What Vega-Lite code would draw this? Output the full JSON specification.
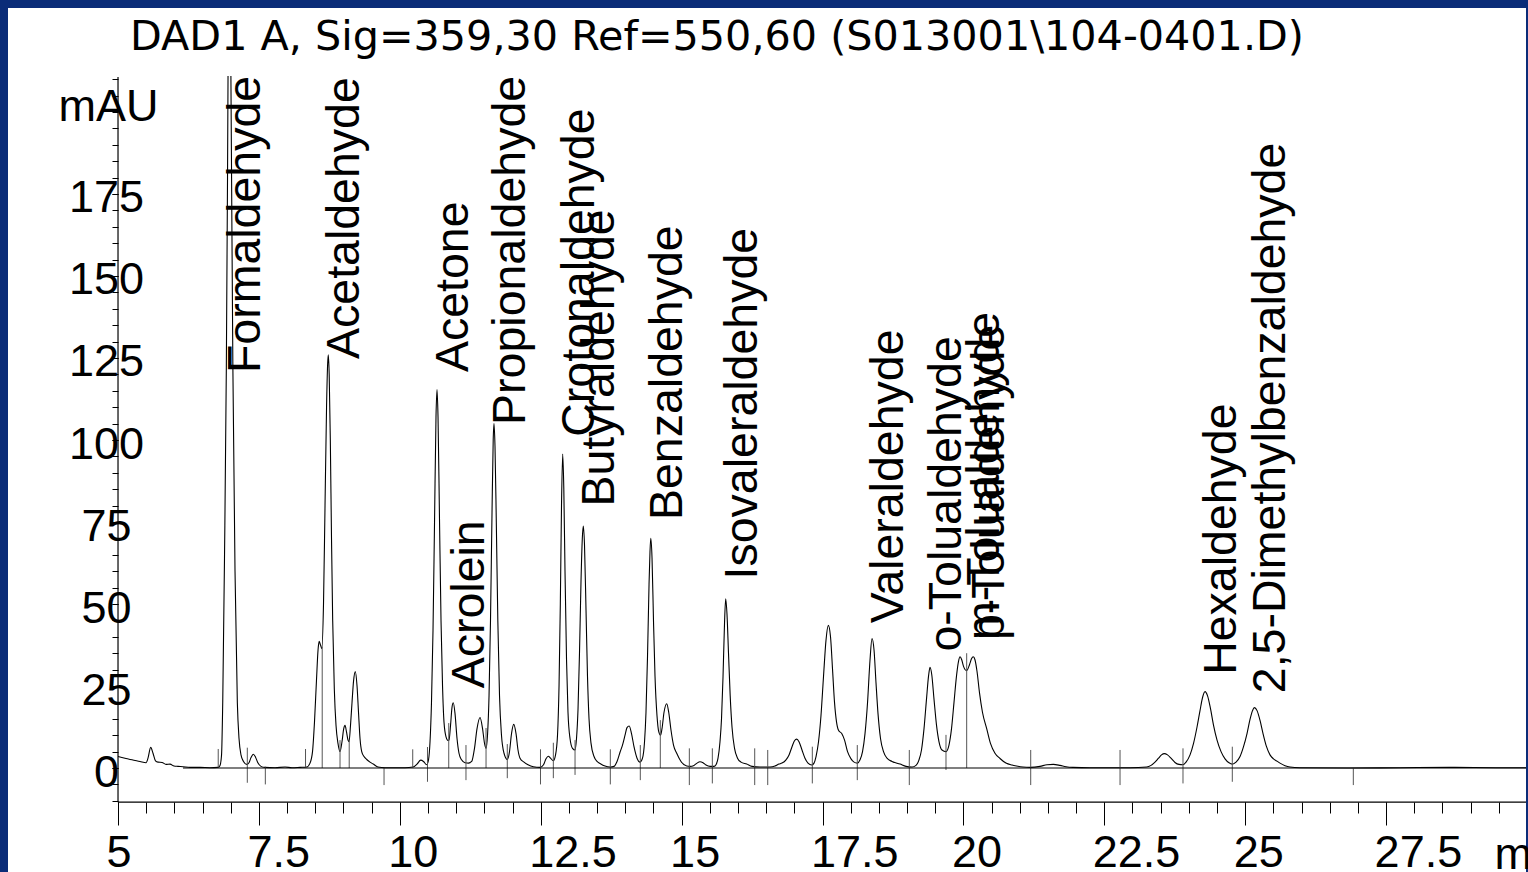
{
  "$schema": "https://vega.github.io/schema/vega-lite/v6.json",
  "width": 1518,
  "height": 864,
  "autosize": {"type": "none"},
  "padding": {"left": 8, "top": 8, "right": 2, "bottom": 0},
  "background": "#0a2c78",
  "config": {"view": {"fill": "white", "stroke": null}, "font": "Liberation Sans"},
  "resolve": {"axis": {"x": "independent", "y": "independent"}},
  "datasets": {
    "trace": [
      {"t": 5.000, "mAU": 3.5, "seg": "a"}, {"t": 5.124, "mAU": 3.0, "seg": "a"}, {"t": 5.248, "mAU": 2.5, "seg": "a"},
      {"t": 5.390, "mAU": 2.0, "seg": "a"}, {"t": 5.497, "mAU": 1.6, "seg": "a"}, {"t": 5.532, "mAU": 3.0, "seg": "a"},
      {"t": 5.580, "mAU": 6.3, "seg": "a"}, {"t": 5.621, "mAU": 4.5, "seg": "a"}, {"t": 5.665, "mAU": 2.2, "seg": "a"},
      {"t": 5.710, "mAU": 1.8, "seg": "a"}, {"t": 5.781, "mAU": 1.7, "seg": "a"}, {"t": 5.852, "mAU": 1.1, "seg": "a"},
      {"t": 5.923, "mAU": 1.2, "seg": "a"}, {"t": 5.994, "mAU": 0.6, "seg": "a"}, {"t": 6.065, "mAU": 0.5, "seg": "a"},
      {"t": 6.153, "mAU": 0.4, "seg": "a"}, {"t": 6.278, "mAU": 0.2, "seg": "a"}, {"t": 6.455, "mAU": 0.2, "seg": "a"},
      {"t": 6.632, "mAU": 0.1, "seg": "a"}, {"t": 6.774, "mAU": 0.2, "seg": "a"}, {"t": 6.810, "mAU": 0.8, "seg": "a"},
      {"t": 6.837, "mAU": 4, "seg": "a"}, {"t": 6.858, "mAU": 20, "seg": "a"}, {"t": 6.890, "mAU": 65, "seg": "a"},
      {"t": 6.922, "mAU": 122, "seg": "a"}, {"t": 6.943, "mAU": 180, "seg": "a"}, {"t": 6.952, "mAU": 211, "seg": "a"},
      {"t": 7.003, "mAU": 211, "seg": "b"}, {"t": 7.015, "mAU": 180, "seg": "b"}, {"t": 7.038, "mAU": 122, "seg": "b"},
      {"t": 7.076, "mAU": 60, "seg": "b"}, {"t": 7.117, "mAU": 20, "seg": "b"}, {"t": 7.147, "mAU": 9, "seg": "b"},
      {"t": 7.182, "mAU": 4, "seg": "b"}, {"t": 7.227, "mAU": 2, "seg": "b"}, {"t": 7.283, "mAU": 1.1, "seg": "b"},
      {"t": 7.324, "mAU": 1.6, "seg": "b"}, {"t": 7.360, "mAU": 3.2, "seg": "b"}, {"t": 7.401, "mAU": 4.2, "seg": "b"},
      {"t": 7.440, "mAU": 3.3, "seg": "b"}, {"t": 7.484, "mAU": 1.5, "seg": "b"}, {"t": 7.537, "mAU": 0.5, "seg": "b"},
      {"t": 7.608, "mAU": 0.2, "seg": "b"}, {"t": 7.786, "mAU": 0.1, "seg": "b"}, {"t": 7.963, "mAU": 0.3, "seg": "b"},
      {"t": 8.087, "mAU": 0.1, "seg": "b"}, {"t": 8.229, "mAU": 0.2, "seg": "b"}, {"t": 8.348, "mAU": 0.3, "seg": "b"},
      {"t": 8.407, "mAU": 1.5, "seg": "b"}, {"t": 8.451, "mAU": 5, "seg": "b"}, {"t": 8.486, "mAU": 14, "seg": "b"},
      {"t": 8.522, "mAU": 27, "seg": "b"}, {"t": 8.549, "mAU": 36, "seg": "b"}, {"t": 8.570, "mAU": 38.6, "seg": "b"},
      {"t": 8.593, "mAU": 37.5, "seg": "b"}, {"t": 8.616, "mAU": 36.4, "seg": "b"}, {"t": 8.646, "mAU": 50, "seg": "b"},
      {"t": 8.673, "mAU": 80, "seg": "b"}, {"t": 8.700, "mAU": 110, "seg": "b"}, {"t": 8.719, "mAU": 123, "seg": "b"},
      {"t": 8.731, "mAU": 126, "seg": "b"}, {"t": 8.747, "mAU": 120, "seg": "b"}, {"t": 8.767, "mAU": 100, "seg": "b"},
      {"t": 8.788, "mAU": 70, "seg": "b"}, {"t": 8.809, "mAU": 45, "seg": "b"}, {"t": 8.838, "mAU": 24, "seg": "b"},
      {"t": 8.868, "mAU": 13, "seg": "b"}, {"t": 8.903, "mAU": 7.5, "seg": "b"}, {"t": 8.939, "mAU": 5, "seg": "b"},
      {"t": 8.974, "mAU": 8, "seg": "b"}, {"t": 9.005, "mAU": 12, "seg": "b"}, {"t": 9.028, "mAU": 13, "seg": "b"},
      {"t": 9.054, "mAU": 11, "seg": "b"}, {"t": 9.081, "mAU": 8.5, "seg": "b"}, {"t": 9.099, "mAU": 8, "seg": "b"},
      {"t": 9.125, "mAU": 13, "seg": "b"}, {"t": 9.152, "mAU": 20, "seg": "b"}, {"t": 9.179, "mAU": 26.5, "seg": "b"},
      {"t": 9.210, "mAU": 29.4, "seg": "b"}, {"t": 9.241, "mAU": 25, "seg": "b"}, {"t": 9.267, "mAU": 17, "seg": "b"},
      {"t": 9.294, "mAU": 9, "seg": "b"}, {"t": 9.324, "mAU": 5, "seg": "b"}, {"t": 9.365, "mAU": 3.5, "seg": "b"},
      {"t": 9.413, "mAU": 2.6, "seg": "b"}, {"t": 9.471, "mAU": 1.8, "seg": "b"}, {"t": 9.530, "mAU": 1.2, "seg": "b"},
      {"t": 9.613, "mAU": 0.3, "seg": "b"}, {"t": 9.737, "mAU": 0.1, "seg": "b"}, {"t": 9.915, "mAU": 0.1, "seg": "b"},
      {"t": 10.092, "mAU": 0.1, "seg": "b"}, {"t": 10.234, "mAU": 0.3, "seg": "b"}, {"t": 10.305, "mAU": 1.2, "seg": "b"},
      {"t": 10.371, "mAU": 2.4, "seg": "b"}, {"t": 10.420, "mAU": 2.0, "seg": "b"}, {"t": 10.477, "mAU": 1.0, "seg": "b"},
      {"t": 10.509, "mAU": 2.5, "seg": "b"}, {"t": 10.536, "mAU": 8, "seg": "b"}, {"t": 10.562, "mAU": 20, "seg": "b"},
      {"t": 10.589, "mAU": 42, "seg": "b"}, {"t": 10.616, "mAU": 75, "seg": "b"}, {"t": 10.642, "mAU": 107, "seg": "b"},
      {"t": 10.660, "mAU": 115.4, "seg": "b"}, {"t": 10.678, "mAU": 107, "seg": "b"}, {"t": 10.704, "mAU": 76, "seg": "b"},
      {"t": 10.731, "mAU": 45, "seg": "b"}, {"t": 10.758, "mAU": 25, "seg": "b"}, {"t": 10.784, "mAU": 14, "seg": "b"},
      {"t": 10.820, "mAU": 9.5, "seg": "b"}, {"t": 10.855, "mAU": 8.4, "seg": "b"}, {"t": 10.873, "mAU": 8.5, "seg": "b"},
      {"t": 10.900, "mAU": 13, "seg": "b"}, {"t": 10.926, "mAU": 18.5, "seg": "b"}, {"t": 10.949, "mAU": 19.9, "seg": "b"},
      {"t": 10.980, "mAU": 16.5, "seg": "b"}, {"t": 11.015, "mAU": 9, "seg": "b"}, {"t": 11.050, "mAU": 4.5, "seg": "b"},
      {"t": 11.095, "mAU": 2.5, "seg": "b"}, {"t": 11.157, "mAU": 1.6, "seg": "b"}, {"t": 11.219, "mAU": 1.5, "seg": "b"},
      {"t": 11.276, "mAU": 2.0, "seg": "b"}, {"t": 11.325, "mAU": 6, "seg": "b"}, {"t": 11.370, "mAU": 12, "seg": "b"},
      {"t": 11.423, "mAU": 15.4, "seg": "b"}, {"t": 11.468, "mAU": 12, "seg": "b"}, {"t": 11.503, "mAU": 7.5, "seg": "b"},
      {"t": 11.530, "mAU": 6, "seg": "b"}, {"t": 11.556, "mAU": 10, "seg": "b"}, {"t": 11.583, "mAU": 22, "seg": "b"},
      {"t": 11.609, "mAU": 45, "seg": "b"}, {"t": 11.636, "mAU": 78, "seg": "b"}, {"t": 11.657, "mAU": 100, "seg": "b"},
      {"t": 11.671, "mAU": 105, "seg": "b"}, {"t": 11.689, "mAU": 98, "seg": "b"}, {"t": 11.712, "mAU": 75, "seg": "b"},
      {"t": 11.739, "mAU": 45, "seg": "b"}, {"t": 11.769, "mAU": 22, "seg": "b"}, {"t": 11.804, "mAU": 10, "seg": "b"},
      {"t": 11.849, "mAU": 4.5, "seg": "b"}, {"t": 11.907, "mAU": 2.6, "seg": "b"}, {"t": 11.946, "mAU": 5, "seg": "b"},
      {"t": 11.982, "mAU": 10.5, "seg": "b"}, {"t": 12.021, "mAU": 13.3, "seg": "b"}, {"t": 12.062, "mAU": 10.5, "seg": "b"},
      {"t": 12.097, "mAU": 5.5, "seg": "b"}, {"t": 12.133, "mAU": 3, "seg": "b"}, {"t": 12.204, "mAU": 1.8, "seg": "b"},
      {"t": 12.275, "mAU": 1.0, "seg": "b"}, {"t": 12.369, "mAU": 0.4, "seg": "b"}, {"t": 12.488, "mAU": 0.2, "seg": "b"},
      {"t": 12.550, "mAU": 1, "seg": "b"}, {"t": 12.594, "mAU": 2.8, "seg": "b"}, {"t": 12.635, "mAU": 3.6, "seg": "b"},
      {"t": 12.674, "mAU": 3.0, "seg": "b"}, {"t": 12.724, "mAU": 2.2, "seg": "b"}, {"t": 12.763, "mAU": 4, "seg": "b"},
      {"t": 12.798, "mAU": 10, "seg": "b"}, {"t": 12.825, "mAU": 25, "seg": "b"}, {"t": 12.848, "mAU": 50, "seg": "b"},
      {"t": 12.869, "mAU": 80, "seg": "b"}, {"t": 12.890, "mAU": 95.7, "seg": "b"}, {"t": 12.910, "mAU": 85, "seg": "b"},
      {"t": 12.931, "mAU": 60, "seg": "b"}, {"t": 12.958, "mAU": 33, "seg": "b"}, {"t": 12.984, "mAU": 17, "seg": "b"},
      {"t": 13.020, "mAU": 9, "seg": "b"}, {"t": 13.064, "mAU": 6, "seg": "b"}, {"t": 13.109, "mAU": 5.5, "seg": "b"},
      {"t": 13.135, "mAU": 9, "seg": "b"}, {"t": 13.162, "mAU": 18, "seg": "b"}, {"t": 13.188, "mAU": 35, "seg": "b"},
      {"t": 13.215, "mAU": 57, "seg": "b"}, {"t": 13.238, "mAU": 70, "seg": "b"}, {"t": 13.256, "mAU": 73.8, "seg": "b"},
      {"t": 13.277, "mAU": 68, "seg": "b"}, {"t": 13.304, "mAU": 48, "seg": "b"}, {"t": 13.330, "mAU": 28, "seg": "b"},
      {"t": 13.357, "mAU": 15, "seg": "b"}, {"t": 13.393, "mAU": 7.5, "seg": "b"}, {"t": 13.446, "mAU": 3.5, "seg": "b"},
      {"t": 13.499, "mAU": 2, "seg": "b"}, {"t": 13.552, "mAU": 1.4, "seg": "b"}, {"t": 13.641, "mAU": 0.6, "seg": "b"},
      {"t": 13.730, "mAU": 0.3, "seg": "b"}, {"t": 13.801, "mAU": 0.5, "seg": "b"}, {"t": 13.854, "mAU": 2, "seg": "b"},
      {"t": 13.907, "mAU": 4.8, "seg": "b"}, {"t": 13.951, "mAU": 7, "seg": "b"}, {"t": 13.996, "mAU": 10, "seg": "b"},
      {"t": 14.031, "mAU": 12.3, "seg": "b"}, {"t": 14.070, "mAU": 12.8, "seg": "b"}, {"t": 14.111, "mAU": 10.5, "seg": "b"},
      {"t": 14.155, "mAU": 6.5, "seg": "b"}, {"t": 14.209, "mAU": 3, "seg": "b"}, {"t": 14.262, "mAU": 1.8, "seg": "b"},
      {"t": 14.306, "mAU": 3, "seg": "b"}, {"t": 14.342, "mAU": 8, "seg": "b"}, {"t": 14.368, "mAU": 17, "seg": "b"},
      {"t": 14.395, "mAU": 34, "seg": "b"}, {"t": 14.422, "mAU": 56, "seg": "b"}, {"t": 14.439, "mAU": 66, "seg": "b"},
      {"t": 14.453, "mAU": 70, "seg": "b"}, {"t": 14.475, "mAU": 64, "seg": "b"}, {"t": 14.501, "mAU": 45, "seg": "b"},
      {"t": 14.528, "mAU": 28, "seg": "b"}, {"t": 14.563, "mAU": 16, "seg": "b"}, {"t": 14.595, "mAU": 11, "seg": "b"},
      {"t": 14.626, "mAU": 10, "seg": "b"}, {"t": 14.652, "mAU": 12, "seg": "b"}, {"t": 14.688, "mAU": 17, "seg": "b"},
      {"t": 14.736, "mAU": 19.6, "seg": "b"}, {"t": 14.771, "mAU": 17, "seg": "b"}, {"t": 14.812, "mAU": 11.5, "seg": "b"},
      {"t": 14.856, "mAU": 7, "seg": "b"}, {"t": 14.913, "mAU": 4.5, "seg": "b"}, {"t": 14.989, "mAU": 2, "seg": "b"},
      {"t": 15.090, "mAU": 0.6, "seg": "b"}, {"t": 15.149, "mAU": 0.5, "seg": "b"}, {"t": 15.220, "mAU": 0.8, "seg": "b"},
      {"t": 15.273, "mAU": 1.5, "seg": "b"}, {"t": 15.326, "mAU": 1.9, "seg": "b"}, {"t": 15.380, "mAU": 1.6, "seg": "b"},
      {"t": 15.433, "mAU": 0.9, "seg": "b"}, {"t": 15.504, "mAU": 0.5, "seg": "b"}, {"t": 15.575, "mAU": 0.5, "seg": "b"},
      {"t": 15.610, "mAU": 1, "seg": "b"}, {"t": 15.646, "mAU": 3, "seg": "b"}, {"t": 15.681, "mAU": 8, "seg": "b"},
      {"t": 15.708, "mAU": 15, "seg": "b"}, {"t": 15.735, "mAU": 28, "seg": "b"}, {"t": 15.761, "mAU": 44, "seg": "b"},
      {"t": 15.782, "mAU": 51.6, "seg": "b"}, {"t": 15.805, "mAU": 47, "seg": "b"}, {"t": 15.832, "mAU": 35, "seg": "b"},
      {"t": 15.862, "mAU": 22, "seg": "b"}, {"t": 15.894, "mAU": 12.5, "seg": "b"}, {"t": 15.939, "mAU": 6, "seg": "b"},
      {"t": 15.992, "mAU": 3, "seg": "b"}, {"t": 16.054, "mAU": 1.8, "seg": "b"}, {"t": 16.155, "mAU": 1.2, "seg": "b"},
      {"t": 16.249, "mAU": 0.5, "seg": "b"}, {"t": 16.391, "mAU": 0.3, "seg": "b"}, {"t": 16.568, "mAU": 0.3, "seg": "b"},
      {"t": 16.657, "mAU": 0.6, "seg": "b"}, {"t": 16.728, "mAU": 1.2, "seg": "b"}, {"t": 16.781, "mAU": 1.5, "seg": "b"},
      {"t": 16.852, "mAU": 2.5, "seg": "b"}, {"t": 16.906, "mAU": 4, "seg": "b"}, {"t": 16.959, "mAU": 6.5, "seg": "b"},
      {"t": 17.003, "mAU": 8.3, "seg": "b"}, {"t": 17.042, "mAU": 8.8, "seg": "b"}, {"t": 17.083, "mAU": 8, "seg": "b"},
      {"t": 17.136, "mAU": 5.5, "seg": "b"}, {"t": 17.189, "mAU": 3, "seg": "b"}, {"t": 17.243, "mAU": 1.5, "seg": "b"},
      {"t": 17.308, "mAU": 0.9, "seg": "b"}, {"t": 17.349, "mAU": 1.5, "seg": "b"}, {"t": 17.385, "mAU": 3.5, "seg": "b"},
      {"t": 17.429, "mAU": 8, "seg": "b"}, {"t": 17.473, "mAU": 16, "seg": "b"}, {"t": 17.518, "mAU": 28, "seg": "b"},
      {"t": 17.562, "mAU": 39, "seg": "b"}, {"t": 17.603, "mAU": 43.5, "seg": "b"}, {"t": 17.642, "mAU": 40, "seg": "b"},
      {"t": 17.678, "mAU": 30, "seg": "b"}, {"t": 17.713, "mAU": 20, "seg": "b"}, {"t": 17.749, "mAU": 14, "seg": "b"},
      {"t": 17.784, "mAU": 11.5, "seg": "b"}, {"t": 17.841, "mAU": 10.5, "seg": "b"}, {"t": 17.891, "mAU": 8.5, "seg": "b"},
      {"t": 17.944, "mAU": 5, "seg": "b"}, {"t": 18.006, "mAU": 2.8, "seg": "b"}, {"t": 18.060, "mAU": 1.8, "seg": "b"},
      {"t": 18.118, "mAU": 1.5, "seg": "b"}, {"t": 18.166, "mAU": 2.5, "seg": "b"}, {"t": 18.210, "mAU": 5, "seg": "b"},
      {"t": 18.254, "mAU": 10.5, "seg": "b"}, {"t": 18.299, "mAU": 20, "seg": "b"}, {"t": 18.343, "mAU": 33, "seg": "b"},
      {"t": 18.378, "mAU": 39.5, "seg": "b"}, {"t": 18.414, "mAU": 36, "seg": "b"}, {"t": 18.449, "mAU": 26, "seg": "b"},
      {"t": 18.485, "mAU": 16.5, "seg": "b"}, {"t": 18.529, "mAU": 9, "seg": "b"}, {"t": 18.582, "mAU": 5, "seg": "b"},
      {"t": 18.644, "mAU": 3, "seg": "b"}, {"t": 18.733, "mAU": 2, "seg": "b"}, {"t": 18.875, "mAU": 1.2, "seg": "b"},
      {"t": 18.981, "mAU": 0.5, "seg": "b"}, {"t": 19.088, "mAU": 0.3, "seg": "b"}, {"t": 19.159, "mAU": 0.8, "seg": "b"},
      {"t": 19.212, "mAU": 2.5, "seg": "b"}, {"t": 19.256, "mAU": 5.5, "seg": "b"}, {"t": 19.301, "mAU": 12, "seg": "b"},
      {"t": 19.345, "mAU": 21, "seg": "b"}, {"t": 19.381, "mAU": 28, "seg": "b"}, {"t": 19.407, "mAU": 30.7, "seg": "b"},
      {"t": 19.438, "mAU": 28.5, "seg": "b"}, {"t": 19.478, "mAU": 21, "seg": "b"}, {"t": 19.523, "mAU": 13, "seg": "b"},
      {"t": 19.567, "mAU": 8, "seg": "b"}, {"t": 19.620, "mAU": 5.5, "seg": "b"}, {"t": 19.691, "mAU": 5, "seg": "b"},
      {"t": 19.744, "mAU": 7, "seg": "b"}, {"t": 19.789, "mAU": 12, "seg": "b"}, {"t": 19.833, "mAU": 20, "seg": "b"},
      {"t": 19.877, "mAU": 28, "seg": "b"}, {"t": 19.913, "mAU": 32.5, "seg": "b"}, {"t": 19.940, "mAU": 33.9, "seg": "b"},
      {"t": 19.970, "mAU": 33, "seg": "b"}, {"t": 20.002, "mAU": 31, "seg": "b"}, {"t": 20.058, "mAU": 29.7, "seg": "b"},
      {"t": 20.108, "mAU": 31.5, "seg": "b"}, {"t": 20.143, "mAU": 33.3, "seg": "b"}, {"t": 20.175, "mAU": 33.9, "seg": "b"},
      {"t": 20.205, "mAU": 33, "seg": "b"}, {"t": 20.241, "mAU": 29.5, "seg": "b"}, {"t": 20.285, "mAU": 23, "seg": "b"},
      {"t": 20.338, "mAU": 17, "seg": "b"}, {"t": 20.413, "mAU": 12, "seg": "b"}, {"t": 20.480, "mAU": 7.5, "seg": "b"},
      {"t": 20.560, "mAU": 4.5, "seg": "b"}, {"t": 20.649, "mAU": 2.9, "seg": "b"}, {"t": 20.755, "mAU": 1.5, "seg": "b"},
      {"t": 20.862, "mAU": 0.9, "seg": "b"}, {"t": 20.945, "mAU": 0.6, "seg": "b"}, {"t": 21.057, "mAU": 0.3, "seg": "b"},
      {"t": 21.182, "mAU": 0.2, "seg": "b"}, {"t": 21.359, "mAU": 0.5, "seg": "b"}, {"t": 21.483, "mAU": 1.0, "seg": "b"},
      {"t": 21.595, "mAU": 1.1, "seg": "b"}, {"t": 21.714, "mAU": 0.8, "seg": "b"}, {"t": 21.820, "mAU": 0.4, "seg": "b"},
      {"t": 21.945, "mAU": 0.2, "seg": "b"}, {"t": 22.246, "mAU": 0.1, "seg": "b"}, {"t": 22.601, "mAU": 0.1, "seg": "b"},
      {"t": 22.956, "mAU": 0.1, "seg": "b"}, {"t": 23.252, "mAU": 0.3, "seg": "b"}, {"t": 23.329, "mAU": 0.8, "seg": "b"},
      {"t": 23.399, "mAU": 1.8, "seg": "b"}, {"t": 23.462, "mAU": 3, "seg": "b"}, {"t": 23.515, "mAU": 4, "seg": "b"},
      {"t": 23.565, "mAU": 4.4, "seg": "b"}, {"t": 23.621, "mAU": 4, "seg": "b"}, {"t": 23.683, "mAU": 3, "seg": "b"},
      {"t": 23.754, "mAU": 1.7, "seg": "b"}, {"t": 23.825, "mAU": 1.1, "seg": "b"}, {"t": 23.891, "mAU": 1.0, "seg": "b"},
      {"t": 23.950, "mAU": 1.8, "seg": "b"}, {"t": 24.021, "mAU": 4, "seg": "b"}, {"t": 24.083, "mAU": 7.5, "seg": "b"},
      {"t": 24.145, "mAU": 12.5, "seg": "b"}, {"t": 24.198, "mAU": 17.5, "seg": "b"}, {"t": 24.243, "mAU": 21.5, "seg": "b"},
      {"t": 24.287, "mAU": 23.3, "seg": "b"}, {"t": 24.332, "mAU": 22, "seg": "b"}, {"t": 24.385, "mAU": 18, "seg": "b"},
      {"t": 24.438, "mAU": 13, "seg": "b"}, {"t": 24.500, "mAU": 8.5, "seg": "b"}, {"t": 24.571, "mAU": 5, "seg": "b"},
      {"t": 24.642, "mAU": 2.8, "seg": "b"}, {"t": 24.713, "mAU": 1.6, "seg": "b"}, {"t": 24.771, "mAU": 1.2, "seg": "b"},
      {"t": 24.837, "mAU": 1.8, "seg": "b"}, {"t": 24.908, "mAU": 3.5, "seg": "b"}, {"t": 24.970, "mAU": 6.5, "seg": "b"},
      {"t": 25.032, "mAU": 10.5, "seg": "b"}, {"t": 25.085, "mAU": 14.8, "seg": "b"}, {"t": 25.130, "mAU": 17.5, "seg": "b"},
      {"t": 25.162, "mAU": 18.4, "seg": "b"}, {"t": 25.210, "mAU": 17.5, "seg": "b"}, {"t": 25.263, "mAU": 14.5, "seg": "b"},
      {"t": 25.316, "mAU": 10.5, "seg": "b"}, {"t": 25.378, "mAU": 6.5, "seg": "b"}, {"t": 25.440, "mAU": 4, "seg": "b"},
      {"t": 25.501, "mAU": 2.8, "seg": "b"}, {"t": 25.564, "mAU": 2.1, "seg": "b"}, {"t": 25.617, "mAU": 1.5, "seg": "b"},
      {"t": 25.706, "mAU": 0.7, "seg": "b"}, {"t": 25.795, "mAU": 0.3, "seg": "b"}, {"t": 25.972, "mAU": 0.1, "seg": "b"},
      {"t": 26.859, "mAU": 0.0, "seg": "b"}, {"t": 27.747, "mAU": 0.1, "seg": "b"}, {"t": 28.634, "mAU": 0.2, "seg": "b"},
      {"t": 29.521, "mAU": 0.1, "seg": "b"}, {"t": 29.982, "mAU": 0.1, "seg": "b"}
    ],
    "lines": [
      {"t": 6.153, "t2": 29.982, "y": 0, "y2": 0},
      {"t": 5, "t2": 29.982, "y": -10.4, "y2": -10.4},
      {"t": 5, "t2": 5, "y": -10.4, "y2": 210.7}
    ],
    "markers": [
      {"t": 6.778, "lo": 0, "hi": 5.8}, {"t": 7.294, "lo": -4.5, "hi": 6.2}, {"t": 7.614, "lo": -5.0, "hi": 0.4},
      {"t": 8.327, "lo": 0, "hi": 5.8}, {"t": 8.623, "lo": 0, "hi": 37.0}, {"t": 8.939, "lo": 0, "hi": 8.5},
      {"t": 9.102, "lo": 0, "hi": 8.5}, {"t": 9.720, "lo": -5.2, "hi": 0}, {"t": 10.229, "lo": 0, "hi": 5.7},
      {"t": 10.491, "lo": -4.2, "hi": 6.4}, {"t": 10.868, "lo": 0, "hi": 13.7}, {"t": 11.174, "lo": -3.7, "hi": 7.0},
      {"t": 11.530, "lo": 0, "hi": 12.2}, {"t": 11.907, "lo": -3.1, "hi": 7.3}, {"t": 12.496, "lo": -5.0, "hi": 5.7},
      {"t": 12.724, "lo": -3.1, "hi": 7.7}, {"t": 13.109, "lo": -2.1, "hi": 8.5}, {"t": 13.735, "lo": -5.0, "hi": 5.7},
      {"t": 14.267, "lo": -3.7, "hi": 7.0}, {"t": 14.622, "lo": 0, "hi": 14.6}, {"t": 15.137, "lo": -5.2, "hi": 6.0},
      {"t": 15.545, "lo": -4.7, "hi": 6.0}, {"t": 16.297, "lo": -5.2, "hi": 6.0}, {"t": 16.528, "lo": -5.2, "hi": 5.5},
      {"t": 17.319, "lo": -4.7, "hi": 6.5}, {"t": 18.117, "lo": -3.7, "hi": 7.0}, {"t": 19.040, "lo": -5.2, "hi": 5.5},
      {"t": 19.691, "lo": -0.6, "hi": 10.1}, {"t": 20.058, "lo": 0, "hi": 35.0}, {"t": 21.194, "lo": -5.2, "hi": 5.5},
      {"t": 22.779, "lo": -5.2, "hi": 5.5}, {"t": 23.896, "lo": -4.7, "hi": 6.0}, {"t": 24.771, "lo": -4.2, "hi": 6.5},
      {"t": 26.918, "lo": -5.2, "hi": 0}
    ],
    "labels": [
      {"name": "Formaldehyde", "t": 6.977, "y": 120.4},
      {"name": "Acetaldehyde", "t": 8.731, "y": 124.7},
      {"name": "Acetone", "t": 10.660, "y": 120.7},
      {"name": "Acrolein", "t": 10.949, "y": 24.3},
      {"name": "Propionaldehyde", "t": 11.671, "y": 104.6},
      {"name": "Crotonaldehyde", "t": 12.890, "y": 101.0},
      {"name": "Butyraldehyde", "t": 13.256, "y": 79.7},
      {"name": "Benzaldehyde", "t": 14.457, "y": 75.6},
      {"name": "Isovaleraldehyde", "t": 15.782, "y": 57.5},
      {"name": "Valeraldehyde", "t": 18.378, "y": 44.1},
      {"name": "o-Tolualdehyde", "t": 19.407, "y": 35.5},
      {"name": "m-Tolualdehyde", "t": 20.078, "y": 39.0},
      {"name": "p-Tolualdehyde", "t": 20.167, "y": 39.0},
      {"name": "Hexaldehyde", "t": 24.287, "y": 28.4},
      {"name": "2,5-Dimethylbenzaldehyde", "t": 25.162, "y": 22.8}
    ],
    "heading": [
      {"text": "DAD1 A, Sig=359,30 Ref=550,60 (S013001\\104-0401.D)", "t": 5.213, "y": 218.9}
    ]
  },
  "layer": [
    {
      "data": {"name": "trace"},
      "mark": {"type": "line", "color": "black", "strokeWidth": 1.1, "interpolate": "monotone"},
      "encoding": {
        "x": {
          "field": "t", "type": "quantitative",
          "scale": {"domain": [3.048, 29.982], "nice": false, "zero": false},
          "axis": {
            "orient": "bottom", "offset": -70, "domain": false, "grid": false,
            "values": [5, 7.5, 10, 12.5, 15, 17.5, 20, 22.5, 25, 27.5],
            "tickSize": 23, "tickColor": "black", "tickWidth": 1,
            "labelExpr": "format(datum.value, '~g')",
            "labelFont": "Liberation Sans", "labelFontSize": 45, "labelColor": "black",
            "labelAlign": "left", "labelBaseline": "top", "labelPadding": 5,
            "labelOffset": -12,
            "labelFlush": false, "labelOverlap": false, "labelBound": false,
            "title": "min", "titleFont": "Liberation Sans", "titleFontSize": 45, "titleFontWeight": "normal",
            "titleColor": "black", "titleX": 1486, "titleY": 66, "titleAlign": "left",
            "titleBaseline": "alphabetic", "titleAngle": 0
          }
        },
        "y": {
          "field": "mAU", "type": "quantitative",
          "scale": {"domain": [-31.7, 231.7], "nice": false, "zero": false},
          "axis": {
            "orient": "left", "offset": -110, "domain": false, "grid": false,
            "values": [0, 25, 50, 75, 100, 125, 150, 175],
            "tickSize": 6, "tickColor": "black", "tickWidth": 1,
            "format": "d",
            "labelFont": "Liberation Sans", "labelFontSize": 45, "labelColor": "black",
            "labelAlign": "center", "labelBaseline": "middle",
            "labelPadding": 6, "labelOffset": 4,
            "labelFlush": false, "labelOverlap": false, "labelBound": false,
            "title": "mAU", "titleFont": "Liberation Sans", "titleFontSize": 45, "titleFontWeight": "normal",
            "titleColor": "black", "titleX": -10, "titleY": 112, "titleAlign": "center",
            "titleBaseline": "alphabetic", "titleAngle": 0
          }
        },
        "detail": {"field": "seg", "type": "nominal"}
      }
    },
    {
      "data": {"name": "markers"},
      "mark": {"type": "rule", "color": "#555555", "strokeWidth": 1},
      "encoding": {
        "x": {
          "field": "t", "type": "quantitative",
          "scale": {"domain": [3.048, 29.982], "nice": false, "zero": false},
          "axis": {
            "orient": "bottom", "offset": -70, "domain": false, "grid": false,
            "values": [5, 5.5, 6, 6.5, 7, 7.5, 8, 8.5, 9, 9.5, 10, 10.5, 11, 11.5, 12, 12.5, 13, 13.5, 14, 14.5, 15, 15.5, 16, 16.5, 17, 17.5, 18, 18.5, 19, 19.5, 20, 20.5, 21, 21.5, 22, 22.5, 23, 23.5, 24, 24.5, 25, 25.5, 26, 26.5, 27, 27.5, 28, 28.5, 29, 29.5],
            "tickSize": 11, "tickColor": "black", "tickWidth": 1,
            "labels": false, "title": null
          }
        },
        "y": {
          "field": "lo", "type": "quantitative",
          "scale": {"domain": [-31.7, 231.7], "nice": false, "zero": false},
          "axis": {
            "orient": "left", "offset": -110, "domain": false, "grid": false,
            "values": [-10, -5, 0, 5, 10, 15, 20, 25, 30, 35, 40, 45, 50, 55, 60, 65, 70, 75, 80, 85, 90, 95, 100, 105, 110, 115, 120, 125, 130, 135, 140, 145, 150, 155, 160, 165, 170, 175, 180, 185, 190, 195, 200, 205, 210],
            "tickSize": 6, "tickColor": "black", "tickWidth": 1,
            "labels": false, "title": null
          }
        },
        "y2": {"field": "hi"}
      }
    },
    {
      "data": {"name": "lines"},
      "mark": {"type": "rule", "color": "black", "strokeWidth": 1.2},
      "encoding": {
        "x": {"field": "t", "type": "quantitative", "scale": {"domain": [3.048, 29.982], "nice": false, "zero": false}, "axis": null},
        "x2": {"field": "t2"},
        "y": {"field": "y", "type": "quantitative", "scale": {"domain": [-31.7, 231.7], "nice": false, "zero": false}, "axis": null},
        "y2": {"field": "y2"}
      }
    },
    {
      "data": {"name": "labels"},
      "mark": {"type": "text", "angle": 270, "align": "left", "baseline": "alphabetic", "dy": 31, "font": "Liberation Sans", "fontSize": 46.5, "color": "black"},
      "encoding": {
        "x": {"field": "t", "type": "quantitative", "scale": {"domain": [3.048, 29.982], "nice": false, "zero": false}, "axis": null},
        "y": {"field": "y", "type": "quantitative", "scale": {"domain": [-31.7, 231.7], "nice": false, "zero": false}, "axis": null},
        "text": {"field": "name", "type": "nominal"}
      }
    },
    {
      "data": {"name": "heading"},
      "mark": {"type": "text", "align": "left", "baseline": "alphabetic", "font": "DejaVu Sans", "fontSize": 41.3, "color": "black"},
      "encoding": {
        "x": {"field": "t", "type": "quantitative", "scale": {"domain": [3.048, 29.982], "nice": false, "zero": false}, "axis": null},
        "y": {"field": "y", "type": "quantitative", "scale": {"domain": [-31.7, 231.7], "nice": false, "zero": false}, "axis": null},
        "text": {"field": "text", "type": "nominal"}
      }
    }
  ]
}
